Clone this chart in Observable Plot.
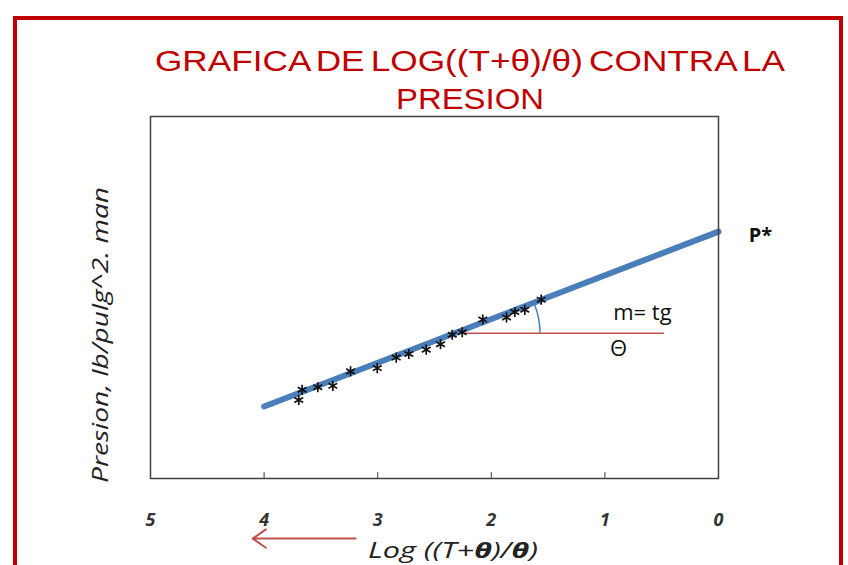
<!DOCTYPE html>
<html>
<head>
<meta charset="utf-8">
<script src="https://cdn.jsdelivr.net/npm/d3@7"></script>
<script src="https://cdn.jsdelivr.net/npm/@observablehq/plot@0.6"></script>
<style>
  html, body { margin: 0; padding: 0; background: #fff; }
  #wrap { position: relative; width: 848px; height: 565px; overflow: hidden; background: #fff; }
  #border { position: absolute; left: 13px; top: 16px; width: 822px; height: 600px;
    border-top: 4px solid #c00000; border-left: 4px solid #c00000; border-right: 4px solid #c00000; }
  .anchor { position: absolute; width: 0; height: 0; }
  .fit { position: absolute; left: 0; top: 0; display: inline-block; white-space: nowrap; }
  .title { color: #c00000; font-family: "Liberation Sans Narrow", "Liberation Sans", "DejaVu Sans", sans-serif; font-size: 30px; line-height: 30px; word-spacing: -3px; }
  #xlabel { font-family: "Open Sans", "Liberation Sans", sans-serif; font-style: italic; font-size: 21px; line-height: 24px; color: #222; }
  #xlabel b { font-weight: bold; }
  #ylabel { font-family: "Open Sans", "Liberation Sans", sans-serif; font-style: italic; font-size: 21px; line-height: 24px; color: #222; }
  #chart { position: absolute; left: 0; top: 0; }
  #chart g[aria-label="x-axis tick label"] { font-size: 18px; font-style: italic; font-weight: bold; }
</style>
</head>
<body>
<div id="wrap">
  <div id="chart"></div>
  <div id="border"></div>
  <div class="anchor" style="left:470px; top:61px"><span class="fit title" id="t1">GRAFICA DE LOG((T+θ)/θ) CONTRA LA</span></div>
  <div class="anchor" style="left:470px; top:99px"><span class="fit title" id="t2">PRESION</span></div>
  <div class="anchor" style="left:453px; top:550px"><span class="fit" id="xlabel">Log ((T+<b>θ</b>)/<b>θ</b>)</span></div>
  <div class="anchor" style="left:100px; top:335px"><span class="fit" id="ylabel">Presion, lb/pulg^2. man</span></div>
</div>
<script>
// tick labels on the reversed x axis
const xTicks = [5, 4, 3, 2, 1, 0];
const innerTicks = [4, 3, 2, 1];

// measured points: log((T+θ)/θ) vs pressure (arbitrary units, no y scale shown)
const logRatio = [3.695, 3.665, 3.527, 3.395, 3.239, 3.004, 2.837, 2.726, 2.573, 2.447, 2.344, 2.256, 2.075, 1.866, 1.793, 1.705, 1.561];
const presion  = [21.7, 24.5, 25.2, 25.6, 29.6, 30.5, 33.4, 34.4, 35.6, 37.1, 39.7, 40.4, 43.9, 44.5, 46.0, 46.6, 49.4];

// fitted straight line, extrapolated to log = 0 (P*)
const fitX = [4, 0];
const fitY = [19.9, 68.2];

// horizontal reference line for the slope angle
const refX = [2.245, 0.484];
const refY = [40.1, 40.1];
const arcReachX = 1.567;

// annotation labels
const slopeLabel = [{x: 0.67, y: 45.6, text: "m= tg"}, {x: 0.88, y: 35.9, text: "Θ"}];
const pStarLabel = [{x: -0.37, y: 67.0, text: "P*"}];

// axis arrow under the x axis
const arrowX = [3.195, 4.10];
const arrowY = -16.6;

const points = logRatio.map((x, i) => ({x, y: presion[i]}));
const fitLine = fitX.map((x, i) => ({x, y: fitY[i]}));
const refLine = refX.map((x, i) => ({x, y: refY[i]}));

function angleArc(index, scales) {
  const cx = scales.x(refX[0]), cy = scales.y(refY[0]);
  const r = scales.x(arcReachX) - cx;
  const x0 = scales.x(fitX[0]), y0 = scales.y(fitY[0]);
  const x1 = scales.x(fitX[1]), y1 = scales.y(fitY[1]);
  const a = Math.atan2(y0 - y1, x1 - x0);
  const ex = cx + r * Math.cos(a), ey = cy - r * Math.sin(a);
  return d3.create("svg:path")
    .attr("d", `M${cx + r},${cy}A${r},${r} 0 0 0 ${ex},${ey}`)
    .attr("fill", "none").attr("stroke", "#4a7ebb").attr("stroke-width", 1.5)
    .node();
}

const chart = Plot.plot({
  width: 848,
  height: 565,
  marginTop: 116,
  marginLeft: 150,
  marginRight: 130,
  marginBottom: 87,
  style: {fontFamily: "'Open Sans', 'Liberation Sans', sans-serif", overflow: "visible", background: "transparent"},
  x: {domain: [5, 0]},
  y: {domain: [0, 100], axis: null},
  marks: [
    Plot.axisX({ticks: xTicks, tickSize: 0, tickPadding: 35, label: null, fontSize: 18, fill: "#333", tickFormat: d => String(d)}),
    Plot.ruleX(innerTicks, {y1: 0, y2: 0, insetTop: -6, stroke: "#404040", strokeWidth: 1}),
    Plot.line(refLine, {x: "x", y: "y", stroke: "#c0504d", strokeWidth: 1.5}),
    Plot.line(fitLine, {x: "x", y: "y", stroke: "#4a7ebb", strokeWidth: 6, strokeLinecap: "round"}),
    angleArc,
    Plot.dot(points, {x: "x", y: "y", symbol: "asterisk", r: 4.8, stroke: "#111", strokeWidth: 1.7}),
    Plot.text(slopeLabel, {x: "x", y: "y", text: "text", fontSize: 22, fill: "#111"}),
    Plot.text(pStarLabel, {x: "x", y: "y", text: "text", fontSize: 20, fontWeight: "bold", fill: "#111"}),
    Plot.arrow([{x1: arrowX[0], x2: arrowX[1], y: arrowY}], {x1: "x1", x2: "x2", y1: "y", y2: "y", stroke: "#c0504d", strokeWidth: 2, headLength: 12, headAngle: 70}),
    Plot.frame({stroke: "#404040", strokeWidth: 1.5})
  ]
});
document.getElementById("chart").appendChild(chart);

// fit text boxes to the measured widths of the reference (its image is stretched)
function fitText(id, targetW, rotate) {
  const el = document.getElementById(id);
  const w = el.getBoundingClientRect().width;
  const s = targetW / w;
  el.style.transformOrigin = "50% 50%";
  el.style.transform = `translate(-50%,-50%)${rotate ? " rotate(-90deg)" : ""} scaleX(${s})`;
}
fitText("t1", 630);
fitText("t2", 148);
fitText("xlabel", 170);
fitText("ylabel", 296, true);
</script>
</body>
</html>
